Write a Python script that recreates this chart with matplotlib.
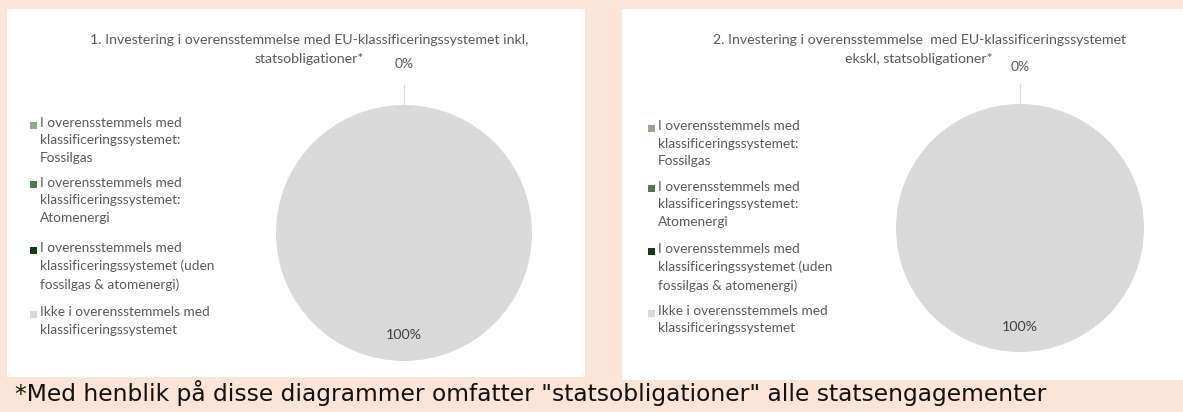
import matplotlib
matplotlib.use("Agg")
import matplotlib.pyplot as plt
from matplotlib.patches import Rectangle
import numpy as np

W, H = 1183, 412
DPI = 100

# data
categories = [
    "I overensstemmels med\nklassificeringssystemet:\nFossilgas",
    "I overensstemmels med\nklassificeringssystemet:\nAtomenergi",
    "I overensstemmels med\nklassificeringssystemet (uden\nfossilgas & atomenergi)",
    "Ikke i overensstemmels med\nklassificeringssystemet",
]
values_inkl = [0, 0, 0, 100]
values_ekskl = [0, 0, 0, 100]
titles = [
    "1. Investering i overensstemmelse med EU-klassificeringssystemet inkl,\nstatsobligationer*",
    "2. Investering i overensstemmelse  med EU-klassificeringssystemet\nekskl, statsobligationer*",
]
colors = ["#8FAA8C", "#4E7A4E", "#0E3D0E", "#D9D9D9"]
footnote = '*Med henblik på disse diagrammer omfatter "statsobligationer" alle statsengagementer'

BG = "#FCE4D6"
TXT = "#595959"
FONT = "Lato"

fig = plt.figure(figsize=(W / DPI, H / DPI), dpi=DPI, facecolor=BG)


def px_box(x0, y0, x1, y1):
    # pixel box (top-left origin) -> figure fraction rect
    return [x0 / W, 1 - y1 / H, (x1 - x0) / W, (y1 - y0) / H]


panels = [
    dict(box=(7, 9, 585, 377), cx=404, cy=233, r=128, tx=309, ty=40,
         lx=33, ly=[125, 185, 250, 314], vals=values_inkl, zy=1.32),
    dict(box=(622, 9, 1183, 380), cx=1020, cy=228, r=124, tx=919, ty=40,
         lx=651, ly=[128, 189, 251, 313], vals=values_ekskl, zy=1.3),
]

for p, title in zip(panels, titles):
    bg = fig.add_axes(px_box(*p["box"]))
    bg.set_facecolor("white")
    bg.set_xticks([])
    bg.set_yticks([])
    for s in bg.spines.values():
        s.set_visible(False)
    bg.set_zorder(0)

    cx, cy, r = p["cx"], p["cy"], p["r"]
    ax = fig.add_axes(px_box(cx - r, cy - r, cx + r, cy + r))
    ax.set_zorder(1)
    vals = p["vals"]
    wedges, _ = ax.pie(vals, colors=colors, startangle=90, counterclock=False,
                       wedgeprops=dict(linewidth=0))
    ax.set_xlim(-1, 1)
    ax.set_ylim(-1, 1)
    ax.axis("off")

    total = sum(vals)
    done = set()  # zero slices share one spot, label it once
    for w, v in zip(wedges, vals):
        mid = np.deg2rad((w.theta1 + w.theta2) / 2)
        pct = f"{v / total * 100:.0f}%"
        if v == 0:
            key = round(float(mid), 3)
            if key in done:
                continue
            done.add(key)
            ax.plot([np.cos(mid) * 1.0, np.cos(mid) * 1.16],
                    [np.sin(mid) * 1.0, np.sin(mid) * 1.16],
                    color="#D9D9D9", lw=0.8, clip_on=False)
            ax.text(np.cos(mid) * p["zy"], np.sin(mid) * p["zy"], pct, ha="center", va="center",
                    fontsize=10, color=TXT, family=FONT, clip_on=False)
        else:
            ax.text(np.cos(mid) * 0.8, np.sin(mid) * 0.8, pct, ha="center", va="center",
                    fontsize=10.3, color="#404040", family=FONT)

    # title lines drawn one by one so the second line stays clear of the 0% label
    for i, line in enumerate(title.split("\n")):
        fig.text(p["tx"] / W, 1 - (p["ty"] + 19 * i) / H, line, ha="center", va="center",
                 fontsize=10.2, color=TXT, family=FONT)

    for lab, col, y in zip(categories, colors, p["ly"]):
        s = 7
        fig.patches.append(Rectangle(((p["lx"] - s / 2) / W, 1 - (y + s / 2) / H), s / W, s / H,
                                     transform=fig.transFigure, facecolor=col, edgecolor="none",
                                     zorder=3))
        fig.text((p["lx"] + 7) / W, 1 - (y - 8) / H, lab, ha="left", va="top",
                 fontsize=9.8, color=TXT, family=FONT, linespacing=1.55, zorder=3)

fig.text(15 / W, 1 - 393 / H, footnote, ha="left", va="center",
         fontsize=16.8, color="#111111", family="DejaVu Sans")

fig.savefig("out.png", dpi=DPI, facecolor=BG)
